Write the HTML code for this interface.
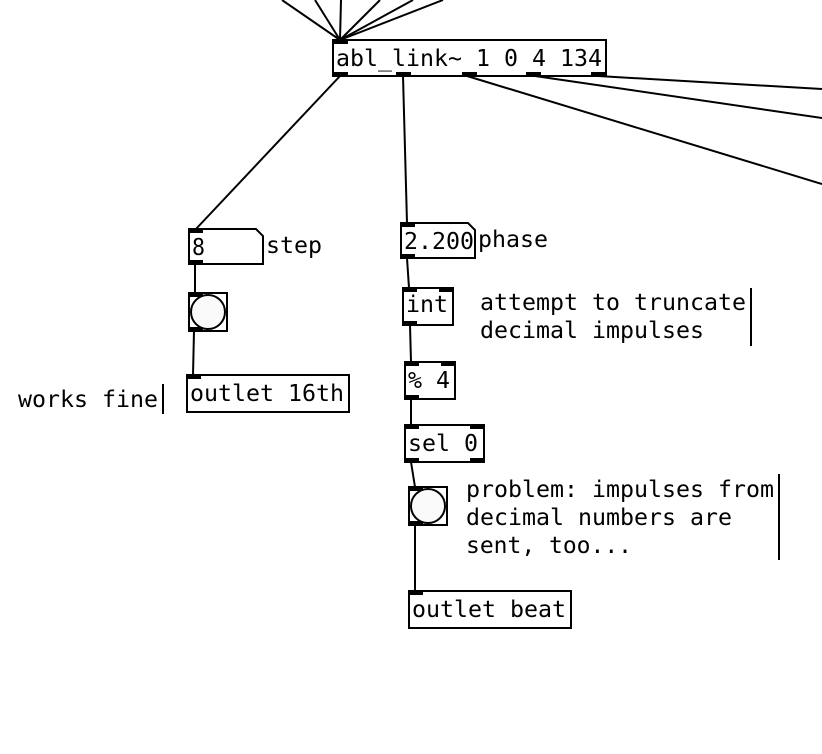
<!DOCTYPE html>
<html><head><meta charset="utf-8"><style>
html,body{margin:0;padding:0;background:#fff;}
svg{display:block;}
text{font-family:"DejaVu Sans Mono","Liberation Mono",monospace;font-size:23.5px;fill:#000;}
</style></head><body>
<svg width="822" height="754" viewBox="0 0 822 754" xmlns="http://www.w3.org/2000/svg">
<g stroke="#000" stroke-width="2" fill="none">
<line x1="282" y1="0" x2="340" y2="40"/>
<line x1="315" y1="0" x2="340" y2="40"/>
<line x1="341" y1="0" x2="340" y2="40"/>
<line x1="380" y1="0" x2="340" y2="40"/>
<line x1="413" y1="0" x2="340" y2="40"/>
<line x1="443" y1="0" x2="340" y2="40"/>
<line x1="340" y1="76" x2="195" y2="230"/>
<line x1="403" y1="76" x2="407" y2="223"/>
<line x1="467" y1="76" x2="822" y2="184"/>
<line x1="535" y1="76" x2="822" y2="118"/>
<line x1="598" y1="76" x2="822" y2="89"/>
<line x1="195" y1="264" x2="195" y2="293"/>
<line x1="194" y1="331" x2="193" y2="375"/>
<line x1="407" y1="258" x2="409" y2="288"/>
<line x1="410" y1="325" x2="411" y2="362"/>
<line x1="411" y1="399" x2="411" y2="425"/>
<line x1="411" y1="462" x2="415" y2="487"/>
<line x1="415" y1="525" x2="415" y2="591"/>
<rect x="333" y="40" width="273" height="36"/>
<path d="M189 229 H256 L263 236 V264 H189 Z"/>
<rect x="189" y="293" width="38" height="38"/>
<circle cx="208" cy="312" r="17" fill="#fafafa"/>
<rect x="187" y="375" width="162" height="37"/>
<path d="M401 223 H468 L475 230 V258 H401 Z"/>
<rect x="403" y="288" width="50" height="37"/>
<rect x="405" y="362" width="50" height="37"/>
<rect x="405" y="425" width="79" height="37"/>
<rect x="409" y="487" width="38" height="38"/>
<circle cx="428" cy="506" r="17" fill="#fafafa"/>
<rect x="409" y="591" width="162" height="37"/>
<line x1="163" y1="384" x2="163" y2="414"/>
<line x1="751" y1="288" x2="751" y2="346"/>
<line x1="779" y1="474" x2="779" y2="560"/>
</g>
<g fill="#000">
<rect x="333" y="39" width="15" height="5"/>
<rect x="333" y="72" width="15" height="5"/>
<rect x="396" y="72" width="15" height="5"/>
<rect x="462" y="72" width="15" height="5"/>
<rect x="526" y="72" width="15" height="5"/>
<rect x="591" y="72" width="15" height="5"/>
<rect x="189" y="229" width="14" height="4"/>
<rect x="189" y="260" width="14" height="4"/>
<rect x="189" y="293" width="14" height="4"/>
<rect x="189" y="327" width="14" height="4"/>
<rect x="187" y="375" width="14" height="4"/>
<rect x="401" y="223" width="14" height="4"/>
<rect x="401" y="254" width="14" height="4"/>
<rect x="403" y="288" width="14" height="4"/>
<rect x="439" y="288" width="14" height="4"/>
<rect x="403" y="321" width="14" height="4"/>
<rect x="405" y="362" width="14" height="4"/>
<rect x="441" y="362" width="14" height="4"/>
<rect x="405" y="395" width="14" height="4"/>
<rect x="405" y="425" width="14" height="4"/>
<rect x="470" y="425" width="14" height="4"/>
<rect x="405" y="458" width="14" height="4"/>
<rect x="470" y="458" width="14" height="4"/>
<rect x="409" y="487" width="14" height="4"/>
<rect x="409" y="521" width="14" height="4"/>
<rect x="409" y="591" width="14" height="4"/>
</g>
<text x="336" y="66" textLength="266" lengthAdjust="spacingAndGlyphs">abl_link~ 1 0 4 134</text>
<text x="192" y="255" textLength="13" lengthAdjust="spacingAndGlyphs">8</text>
<text x="266" y="253" textLength="56" lengthAdjust="spacingAndGlyphs">step</text>
<text x="190" y="401" textLength="154" lengthAdjust="spacingAndGlyphs">outlet 16th</text>
<text x="18" y="407" textLength="140" lengthAdjust="spacingAndGlyphs">works fine</text>
<text x="404" y="249" textLength="70" lengthAdjust="spacingAndGlyphs">2.200</text>
<text x="478" y="247" textLength="70" lengthAdjust="spacingAndGlyphs">phase</text>
<text x="406" y="312" textLength="42" lengthAdjust="spacingAndGlyphs">int</text>
<text x="480" y="310" textLength="266" lengthAdjust="spacingAndGlyphs">attempt to truncate</text>
<text x="480" y="338" textLength="224" lengthAdjust="spacingAndGlyphs">decimal impulses</text>
<text x="408" y="388" textLength="42" lengthAdjust="spacingAndGlyphs">% 4</text>
<text x="408" y="451" textLength="70" lengthAdjust="spacingAndGlyphs">sel 0</text>
<text x="466" y="497" textLength="308" lengthAdjust="spacingAndGlyphs">problem: impulses from</text>
<text x="466" y="525" textLength="266" lengthAdjust="spacingAndGlyphs">decimal numbers are</text>
<text x="466" y="553" textLength="166" lengthAdjust="spacingAndGlyphs">sent, too...</text>
<text x="412" y="617" textLength="154" lengthAdjust="spacingAndGlyphs">outlet beat</text>
</svg>
</body></html>
